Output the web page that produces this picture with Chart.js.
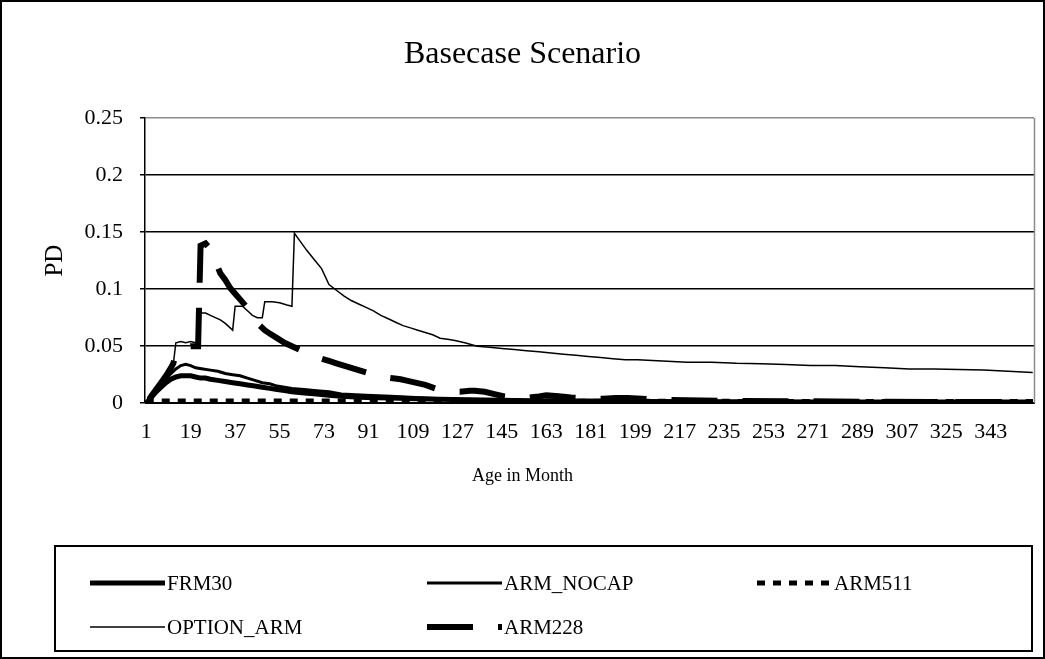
<!DOCTYPE html>
<html>
<head>
<meta charset="utf-8">
<script src="https://cdn.jsdelivr.net/npm/chart.js@4.4.1/dist/chart.umd.min.js"></script>
<style>
html,body{margin:0;padding:0;background:#fff;}
#wrap{width:1045px;height:659px;position:relative;}
</style>
</head>
<body>
<div id="wrap"><canvas id="c" width="1045" height="659"></canvas></div>
<script>
// ---------- data ----------
const chartTitle = 'Basecase Scenario';
const xAxisTitle = 'Age in Month';
const yAxisTitle = 'PD';
const xTickLabels = [1,19,37,55,73,91,109,127,145,163,181,199,217,235,253,271,289,307,325,343];
const yTickValues = [0,0.05,0.1,0.15,0.2,0.25];
const yTickLabels = ['0','0.05','0.1','0.15','0.2','0.25'];
const seriesNames = ['FRM30','ARM_NOCAP','ARM511','OPTION_ARM','ARM228'];

const frm30Months = [1,3,5,7,9,11,13,15,17,19,21,23,25,27,30,33,36,39,42,45,48,51,54,57,60,65,70,75,80,90,100,110,120,130,145,160,180,200,240,280,320,360];
const frm30PD = [0,0.005,0.010,0.014,0.018,0.021,0.023,0.024,0.024,0.024,0.023,0.022,0.022,0.021,0.020,0.019,0.018,0.017,0.016,0.015,0.014,0.013,0.012,0.011,0.010,0.009,0.008,0.007,0.006,0.005,0.0045,0.004,0.0035,0.003,0.0025,0.002,0.002,0.0015,0.0012,0.001,0.001,0.001];

const armNocapMonths = [1,3,5,7,9,11,13,15,17,19,21,24,27,30,33,36,39,42,45,48,51,54,57,60,65,70,75,80,90,100,110,120,130,145,160,180,200,240,280,320,360];
const armNocapPD = [0,0.006,0.011,0.016,0.021,0.026,0.030,0.033,0.034,0.033,0.031,0.030,0.029,0.028,0.026,0.025,0.024,0.022,0.020,0.018,0.017,0.015,0.014,0.013,0.012,0.011,0.010,0.008,0.007,0.006,0.005,0.004,0.0035,0.003,0.0025,0.002,0.002,0.0015,0.0012,0.001,0.001];

const arm511Months = [1,3,60,120,180,240,300,360];
const arm511PD = [0,0.002,0.002,0.002,0.0018,0.0016,0.0015,0.0015];

const optionArmMonths = [1,3,5,7,9,11,12,13,15,17,19,21,22,23,25,27,29,31,33,35,36,37,40,42,44,46,48,49,52,55,58,60,61,63,66,69,72,75,78,81,84,87,90,93,96,99,102,105,108,111,114,117,120,123,126,130,135,140,145,150,155,160,165,170,175,180,185,190,195,200,210,220,230,240,250,260,270,280,290,300,310,320,330,340,350,360];
const optionArmPD = [0,0.006,0.012,0.018,0.024,0.030,0.035,0.053,0.054,0.053,0.054,0.053,0.053,0.079,0.079,0.077,0.075,0.073,0.070,0.066,0.064,0.085,0.085,0.081,0.077,0.075,0.075,0.089,0.089,0.088,0.086,0.085,0.149,0.143,0.134,0.126,0.118,0.104,0.099,0.094,0.090,0.087,0.084,0.081,0.077,0.074,0.071,0.068,0.066,0.064,0.062,0.060,0.057,0.056,0.055,0.053,0.050,0.049,0.048,0.047,0.046,0.045,0.044,0.043,0.042,0.041,0.040,0.039,0.038,0.038,0.037,0.036,0.036,0.035,0.0345,0.034,0.033,0.033,0.032,0.031,0.030,0.030,0.0295,0.029,0.028,0.027];

const arm228Months = [1,3,5,7,9,11,12,13,15,17,19,21,22,23,25,27,29,31,33,35,37,39,41,43,45,47,49,51,54,57,60,63,66,68,72,75,78,81,84,87,90,93,96,100,104,106,110,114,118,122,124,128,132,134,138,142,146,150,152,156,160,163,168,173,178,181,186,191,196,210,240,280,320,360];
const arm228PD = [0,0.006,0.012,0.018,0.024,0.031,0.035,0.045,0.048,0.049,0.050,0.050,0.050,0.138,0.140,0.135,0.124,0.114,0.108,0.101,0.096,0.091,0.086,0.081,0.075,0.068,0.064,0.061,0.057,0.053,0.050,0.047,0.043,0.041,0.039,0.037,0.035,0.033,0.031,0.029,0.027,0.025,0.023,0.022,0.021,0.020,0.018,0.016,0.013,0.011,0.010,0.010,0.011,0.011,0.010,0.008,0.006,0.005,0.0045,0.005,0.006,0.007,0.006,0.005,0.0045,0.004,0.004,0.0045,0.0045,0.003,0.002,0.0015,0.001,0.001];

// ---------- build ----------
const FONT = "'Liberation Serif', 'Times New Roman', serif";
function pts(months, values){ return months.map((m,i)=>({x:m, y:values[i]})); }

const datasets = [
  {label: seriesNames[0], data: pts(frm30Months, frm30PD), borderWidth: 5, borderDash: [], borderDashOffset: 0, order: 5},
  {label: seriesNames[1], data: pts(armNocapMonths, armNocapPD), borderWidth: 3, borderDash: [], borderDashOffset: 0, order: 4},
  {label: seriesNames[2], data: pts(arm511Months, arm511PD), borderWidth: 5, borderDash: [8,8], borderDashOffset: 0, order: 3},
  {label: seriesNames[3], data: pts(optionArmMonths, optionArmPD), borderWidth: 1.5, borderDash: [], borderDashOffset: 0, order: 2},
  {label: seriesNames[4], data: pts(arm228Months, arm228PD), borderWidth: 6, borderDash: [46,25], borderDashOffset: -5, order: 1}
].map(d => Object.assign(d, {borderColor:'#000', backgroundColor:'#000', pointRadius:0, tension:0, fill:false, borderCapStyle:'butt', borderJoinStyle:'miter'}));

const framePlugin = {
  id: 'framePlugin',
  beforeDraw(chart){
    const ctx = chart.ctx;
    ctx.save();
    ctx.fillStyle = '#fff';
    ctx.fillRect(0,0,chart.width,chart.height);
    ctx.restore();
  },
  beforeDatasetsDraw(chart){
    const {ctx, chartArea:a} = chart;
    ctx.save();
    ctx.strokeStyle = '#8c8c8c';
    ctx.lineWidth = 1.5;
    ctx.beginPath();
    ctx.moveTo(a.right + 0.5, a.top);
    ctx.lineTo(a.right + 0.5, a.bottom);
    ctx.stroke();
    ctx.restore();
  },
  afterDraw(chart){
    const ctx = chart.ctx;
    ctx.save();
    ctx.strokeStyle = '#000';
    ctx.lineWidth = 2;
    ctx.strokeRect(1, 1, chart.width - 2, chart.height - 2);
    ctx.restore();
  }
};

const LEGEND_BOX = [55, 546, 1032, 651];
const LEGEND_ROWS = [583, 627];
const LEGEND_COLS = [90, 427, 757];
const LEGEND_SAMPLE = 75, LEGEND_GAP = 2;

const boxLegend = {
  id: 'boxLegend',
  afterDraw(chart){
    const ctx = chart.ctx;
    const helpers = Chart.helpers;
    const font = helpers.toFont({family: FONT, size: 21, style: 'normal', weight: 'normal'});
    const [x1,y1,x2,y2] = LEGEND_BOX;
    ctx.save();
    ctx.strokeStyle = '#000';
    ctx.lineWidth = 2;
    ctx.setLineDash([]);
    ctx.strokeRect(x1, y1, x2 - x1, y2 - y1);
    ctx.restore();
    chart.data.datasets.forEach((ds, i) => {
      const row = Math.floor(i / LEGEND_COLS.length);
      const col = i % LEGEND_COLS.length;
      const x = LEGEND_COLS[col], y = LEGEND_ROWS[row];
      ctx.save();
      ctx.strokeStyle = ds.borderColor;
      ctx.lineWidth = ds.borderWidth;
      ctx.lineCap = 'butt';
      ctx.setLineDash(ds.borderDash || []);
      ctx.beginPath();
      ctx.moveTo(x, y);
      ctx.lineTo(x + LEGEND_SAMPLE, y);
      ctx.stroke();
      ctx.restore();
      helpers.renderText(ctx, ds.label, x + LEGEND_SAMPLE + LEGEND_GAP, y + 1, font, {
        color: '#000', textAlign: 'left', textBaseline: 'middle'
      });
    });
  }
};

new Chart(document.getElementById('c'), {
  type: 'line',
  data: { datasets },
  plugins: [framePlugin, boxLegend],
  options: {
    responsive: false,
    animation: false,
    devicePixelRatio: 1,
    layout: { padding: {left: 11, right: 11, top: 0, bottom: 170} },
    font: { family: FONT },
    plugins: {
      legend: { display: false },
      tooltip: { enabled: false },
      title: {
        display: true, text: chartTitle, color: '#000',
        font: {family: FONT, size: 32, weight: 'normal'},
        padding: {top: 35, bottom: 44.6}
      },
      subtitle: {
        display: true, position: 'bottom', text: xAxisTitle, color: '#000',
        font: {family: FONT, size: 18, weight: 'normal'},
        padding: {top: 12, bottom: 2.2}
      }
    },
    scales: {
      x: {
        type: 'linear', min: 0.5, max: 360.5,
        afterBuildTicks: s => { s.ticks = xTickLabels.map(v => ({value: v})); },
        afterFit: s => { s.height = 50; },
        ticks: {
          autoSkip: false, maxRotation: 0, minRotation: 0, padding: 16, color: '#000',
          font: {family: FONT, size: 22},
          callback: v => String(v)
        },
        grid: { display: false, drawTicks: false },
        border: { display: true, color: '#000', width: 1 }
      },
      y: {
        type: 'linear', min: 0, max: 0.25,
        afterBuildTicks: s => { s.ticks = yTickValues.map(v => ({value: v})); },
        afterFit: s => { s.width = 134; },
        ticks: {
          padding: 17, color: '#000', font: {family: FONT, size: 22},
          callback: (v, i) => yTickLabels[i]
        },
        grid: {
          color: c => (c.tick && c.tick.value === 0.25) ? '#8c8c8c' : '#000',
          tickColor: '#000', tickLength: 5, lineWidth: 1.5, drawTicks: true
        },
        border: { display: true, color: '#000', width: 1.5 },
        title: { display: true, text: yAxisTitle, color: '#000', font: {family: FONT, size: 25}, padding: {top: 29, bottom: 0} }
      }
    }
  }
});
</script>
</body>
</html>
